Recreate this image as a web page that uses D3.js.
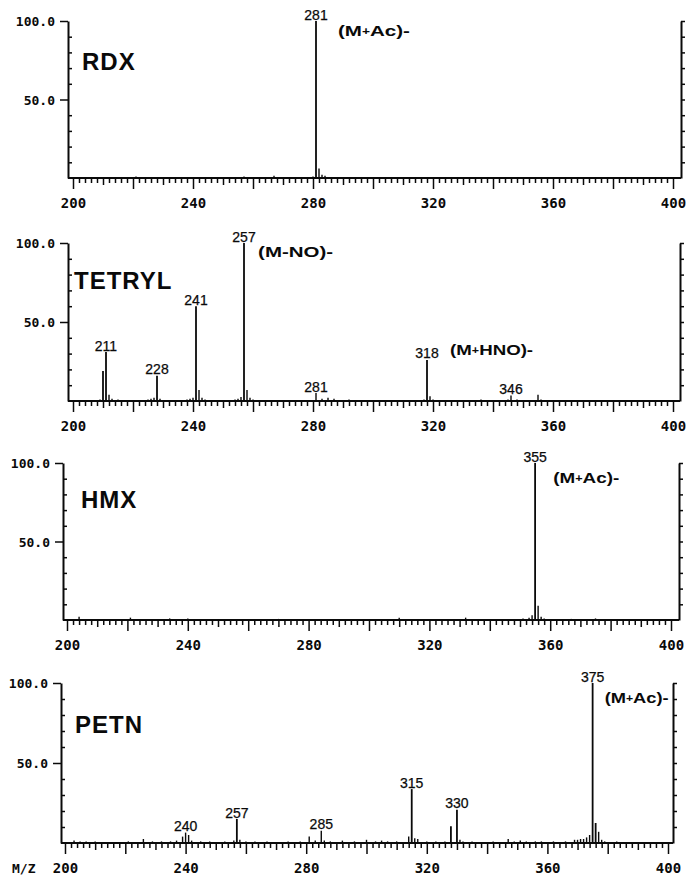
<!DOCTYPE html>
<html>
<head>
<meta charset="utf-8">
<script src="https://cdn.jsdelivr.net/npm/d3@7"></script>
<style>
  html, body { margin: 0; padding: 0; background: #fff; }
  svg { display: block; }
</style>
</head>
<body>
<div id="chart"></div>
<script>
/// DATA

const panelNames = ["RDX", "TETRYL", "HMX", "PETN"]
const mzTicks = [200, 240, 280, 320, 360, 400]
const intensityTicks = [50, 100]
const minorIntensity = [10, 20, 30, 40, 60, 70, 80, 90]

// [m/z, relative intensity %]
const rdxPeaks = [
  [221, 1], [257, 1], [262, 0.7], [267, 1.5], [280, 1],
  [281, 100], [282, 6], [283, 2], [284, 1.5], [286, 0.7],
]
const tetrylPeaks = [
  [205, 0.7], [209, 1], [210, 19], [211, 31], [212, 4], [213, 1.5], [215, 1],
  [225, 1], [226, 1.5], [227, 2], [228, 16], [229, 1.5],
  [238, 1], [239, 1.5], [240, 2], [241, 60], [242, 7], [243, 2], [244, 1],
  [254, 1], [255, 1.5], [256, 2.5], [257, 100], [258, 7], [259, 2], [260, 1],
  [281, 5], [283, 1.5], [285, 2], [287, 1.5], [292, 1],
  [317, 1], [318, 26], [319, 3], [320, 1],
  [336, 1], [345, 1], [346, 3.5], [348, 1], [355, 4], [356, 1], [360, 0.7],
]
const hmxPeaks = [
  [204, 2], [221, 1.5], [234, 1], [240, 1], [250, 0.7], [270, 0.7], [300, 0.7],
  [310, 1.5], [332, 1.5], [340, 0.7], [351, 1], [353, 1.5], [354, 3],
  [355, 100], [356, 9], [357, 2], [358, 1], [367, 0.7], [375, 1],
]
const petnPeaks = [
  [203, 1.5], [205, 1], [207, 1], [210, 1], [213, 0.7], [217, 0.7], [221, 1],
  [226, 2.5], [229, 1], [232, 1], [235, 1], [237, 1.5], [239, 4], [240, 6.5],
  [241, 5], [242, 1.5], [245, 1], [248, 1], [253, 1], [256, 1.5], [257, 15],
  [258, 2], [260, 1], [263, 1], [267, 1], [270, 0.7], [274, 1], [278, 1],
  [281, 4], [283, 1.5], [285, 7.7], [286, 1.5], [288, 1], [292, 1.5], [296, 1],
  [300, 2], [303, 1], [305, 1.5], [307, 1], [310, 1], [314, 4], [315, 33.7],
  [316, 3], [317, 2.5], [320, 1], [323, 1], [326, 1], [328, 10.5], [330, 20.8],
  [331, 2], [332, 1], [335, 1], [339, 0.7], [342, 1], [347, 2.5], [349, 1],
  [351, 1.5], [353, 1], [356, 1], [358, 1], [362, 1], [366, 1], [369, 2],
  [370, 2], [371, 2.5], [372, 2.5], [373, 3.5], [374, 5], [375, 100],
  [376, 12.5], [377, 7], [378, 2], [379, 1], [383, 1], [386, 0.7], [390, 0.7],
]

const rdxLabels = [281]
const tetrylLabels = [211, 228, 241, 257, 281, 318, 346]
const hmxLabels = [355]
const petnLabels = [240, 257, 285, 315, 330, 375]

const rdxIons = ["(M+Ac)-"]
const tetrylIons = ["(M-NO)-", "(M+HNO)-"]
const hmxIons = ["(M+Ac)-"]
const petnIons = ["(M+Ac)-"]

const peaksAll = [rdxPeaks, tetrylPeaks, hmxPeaks, petnPeaks]
const labelsAll = [rdxLabels, tetrylLabels, hmxLabels, petnLabels]
const ionsAll = [rdxIons, tetrylIons, hmxIons, petnIons]

/// LAYOUT (pixels)

const layout = [
  { axisX: 68, x0: 73, x1: 673, rightX: 681, top: 21, base: 178, nameX: 82, nameY: 70,
    ionPos: [{ mz: 288.3, v: 90.4, w: 72 }] },
  { axisX: 68, x0: 73, x1: 673, rightX: 680, top: 243, base: 401, nameX: 74, nameY: 289,
    ionPos: [{ mz: 261.7, v: 91, w: 75 }, { mz: 325.7, v: 29, w: 83 }] },
  { axisX: 63, x0: 67, x1: 671, rightX: 679, top: 463, base: 620, nameX: 81, nameY: 508,
    ionPos: [{ mz: 361, v: 87, w: 66 }] },
  { axisX: 61, x0: 65, x1: 668, rightX: 673, top: 683, base: 843, nameX: 75, nameY: 733,
    ionPos: [{ mz: 379, v: 87.5, w: 64 }] },
]

const ink = "#0a0a0a"
const monoFont = '"DejaVu Sans Mono", monospace'
const sansFont = '"Liberation Sans", Arial, sans-serif'

const svg = d3
  .select("#chart")
  .append("svg")
  .attr("width", 687)
  .attr("height", 878)
  .attr("viewBox", [0, 0, 687, 878])

panelNames.forEach((name, i) => {
  const L = layout[i]
  const peaks = peaksAll[i]

  const xScale = d3.scaleLinear().domain([200, 400]).range([L.x0, L.x1])
  const yScale = d3.scaleLinear().domain([0, 100]).range([L.base, L.top])

  const g = svg.append("g").attr("class", "panel")

  // baseline
  g.append("line")
    .attr("x1", L.axisX)
    .attr("x2", L.rightX)
    .attr("y1", yScale(0))
    .attr("y2", yScale(0))
    .attr("stroke", ink)
    .attr("stroke-width", 2)

  // x axis
  const xAxisGenerator = d3
    .axisBottom(xScale)
    .tickValues(d3.range(200, 401, 2))
    .tickFormat((d) => (mzTicks.includes(d) ? d : ""))
    .tickSizeOuter(0)

  const gx = g
    .append("g")
    .attr("transform", `translate(0,${yScale(0)})`)
    .call(xAxisGenerator)
  gx.select(".domain").remove()
  gx.attr("font-family", monoFont).attr("font-size", 14).attr("font-weight", "bold")
  gx.selectAll(".tick line")
    .attr("y2", (d) => (d % 20 === 0 ? 11 : d % 10 === 0 ? 7 : 5))
    .attr("stroke", ink)
    .attr("stroke-width", 1.5)
  gx.selectAll(".tick text").attr("y", 30).attr("dy", 0).attr("fill", ink)

  // left y axis, labelled ticks
  const yAxisGenerator = d3
    .axisLeft(yScale)
    .tickValues(intensityTicks)
    .tickFormat(d3.format(".1f"))
    .tickSize(8)
    .tickSizeOuter(0)
    .tickPadding(5)

  const gy = g.append("g").attr("transform", `translate(${L.axisX},0)`).call(yAxisGenerator)
  gy.attr("font-family", monoFont).attr("font-size", 13).attr("font-weight", "bold")
  gy.select(".domain").attr("stroke", ink).attr("stroke-width", 2)
  gy.selectAll(".tick line").attr("stroke", ink).attr("stroke-width", 1.5)
  gy.selectAll(".tick text").attr("fill", ink).attr("dy", "0.36em")

  // left y axis, minor ticks pointing inward
  const gyMinor = g
    .append("g")
    .attr("transform", `translate(${L.axisX},0)`)
    .call(d3.axisRight(yScale).tickValues(minorIntensity).tickSize(4).tickFormat(""))
  gyMinor.select(".domain").remove()
  gyMinor.selectAll(".tick line").attr("stroke", ink).attr("stroke-width", 1.5)

  // right frame axis
  const gr = g
    .append("g")
    .attr("transform", `translate(${L.rightX},0)`)
    .call(
      d3.axisRight(yScale)
        .tickValues(d3.range(10, 101, 10))
        .tickSize(4)
        .tickSizeOuter(0)
        .tickFormat("")
    )
  gr.select(".domain").attr("stroke", ink).attr("stroke-width", 2)
  gr.selectAll(".tick line").attr("stroke", ink).attr("stroke-width", 1.5)

  // peaks
  g.selectAll(".peak")
    .data(peaks)
    .join("line")
    .attr("class", "peak")
    .attr("x1", (d) => xScale(d[0]))
    .attr("x2", (d) => xScale(d[0]))
    .attr("y1", yScale(0))
    .attr("y2", (d) => yScale(d[1]))
    .attr("stroke", ink)
    .attr("stroke-width", (d) => (d[1] > 10 ? 1.8 : 1.4))

  // peak labels
  const peakValue = new Map(peaks)
  g.selectAll(".plab")
    .data(labelsAll[i])
    .join("text")
    .attr("class", "plab")
    .attr("x", (d) => xScale(d))
    .attr("y", (d) => yScale(peakValue.get(d)) - 1.5)
    .attr("text-anchor", "middle")
    .attr("font-family", sansFont)
    .attr("font-size", 14)
    .attr("fill", ink)
    .attr("stroke", ink)
    .attr("stroke-width", 0.25)
    .text((d) => d)

  // compound name
  g.append("text")
    .attr("x", L.nameX)
    .attr("y", L.nameY)
    .attr("font-family", sansFont)
    .attr("font-weight", "bold")
    .attr("font-size", 24)
    .attr("letter-spacing", 1)
    .attr("fill", ink)
    .text(name)

  // ion annotations
  ionsAll[i].forEach((ion, k) => {
    const pos = L.ionPos[k]
    const t = g.append("text")
      .attr("x", xScale(pos.mz))
      .attr("y", yScale(pos.v))
      .attr("font-family", sansFont)
      .attr("font-weight", "bold")
      .attr("font-size", 15)
      .attr("fill", ink)
      .attr("textLength", pos.w)
      .attr("lengthAdjust", "spacingAndGlyphs")
    const parts = ion.split("+")
    t.append("tspan").text(parts[0])
    if (parts.length > 1) {
      t.append("tspan").attr("font-size", 10).attr("dy", -1).text("+")
      t.append("tspan").attr("dy", 1).text(parts[1])
    }
  })

  if (i === panelNames.length - 1) {
    g.append("text")
      .attr("x", 12)
      .attr("y", yScale(0) + 30)
      .attr("font-family", monoFont)
      .attr("font-size", 13)
      .attr("font-weight", "bold")
      .attr("fill", ink)
      .text("M/Z")
  }
})
</script>
</body>
</html>
